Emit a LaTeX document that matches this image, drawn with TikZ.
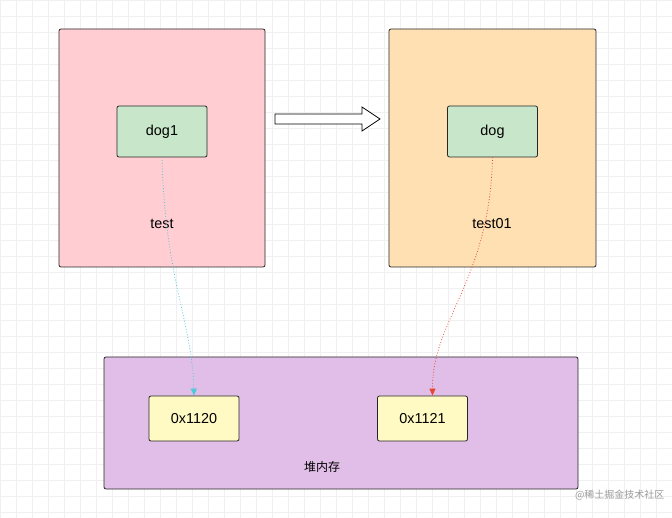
\documentclass[tikz,border=0pt]{standalone}
\usepackage{fontspec}
\setmainfont{Liberation Sans}
\newfontfamily\cjk{Noto Sans CJK SC}
\usetikzlibrary{arrows.meta}
\definecolor{pinkbox}{RGB}{255,205,210}
\definecolor{orangebox}{RGB}{255,224,178}
\definecolor{greenbox}{RGB}{200,230,201}
\definecolor{heapbox}{RGB}{225,190,231}
\definecolor{addrbox}{RGB}{255,249,196}
\definecolor{cyanline}{RGB}{77,200,220}
\definecolor{redline}{RGB}{230,70,50}
\tikzset{
  frame/.style={draw=black!85,thick,rounded corners=2pt},
  cell/.style={frame,minimum width=90pt,minimum height=51pt,font=\Large},
  addr/.style={frame,fill=addrbox,minimum width=90pt,minimum height=45pt,font=\Large},
  ptr/.style={dotted,thick,-{Triangle[length=7pt,width=6pt]}}
}
\begin{document}
\begin{tikzpicture}[x=1pt,y=-1pt]
\useasboundingbox (0,0) rectangle (672,518);
%grid
\draw[black!6] (0,0) grid[step=16pt] (672,518);
\draw[frame,fill=pinkbox] (59,29) rectangle (265,267);
\draw[frame,fill=orangebox] (389,29) rectangle (596,267);
\draw[frame,fill=heapbox] (104,357) rectangle (578,489);
\node[cell,fill=greenbox] (dog1) at (162,131.5) {dog1};
\node[cell,fill=greenbox] (dog) at (492.5,131.5) {dog};
\node[font=\Large] (test) at (162,224) {test};
\node[font=\Large] (test01) at (492,224) {test01};
\node[addr] (a1120) at (194,418.5) {0x1120};
\node[addr] (a1121) at (422.5,418.5) {0x1121};
\node[font=\cjk\large] (heap) at (322,467) {堆内存};
\node[font=\cjk\normalsize,text=black!40,anchor=east] (mark) at (668,495) {@稀土掘金技术社区};
\coordinate (in1121) at ([xshift=10pt]a1121.north);
%hollow arrow
\draw[thick,fill=white] (275,114) -- (362,114) -- (362,107) -- (380,119) -- (362,131) -- (362,124) -- (275,124) -- cycle;
\draw[ptr,cyanline] (dog1.south) .. controls (165,280) and (192,320) .. (a1120.north);
\draw[ptr,redline] (dog.south) .. controls (490,280) and (432,320) .. (in1121);
\end{tikzpicture}
\end{document}
